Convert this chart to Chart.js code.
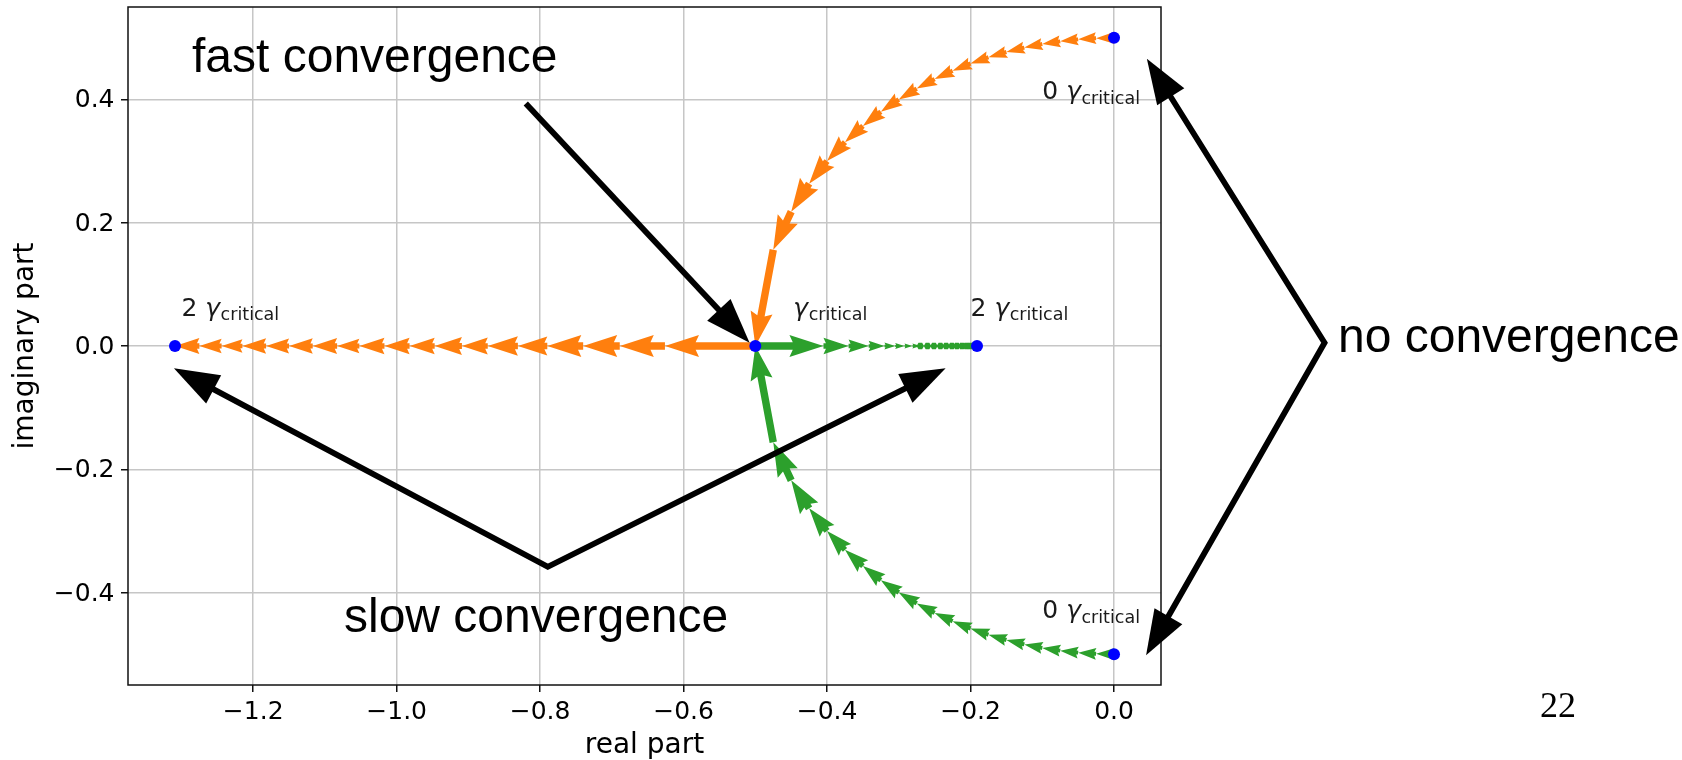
<!DOCTYPE html>
<html>
<head>
<meta charset="utf-8">
<script src="https://cdn.jsdelivr.net/npm/chart.js@4.4.1/dist/chart.umd.min.js"></script>
<style>
  html, body { margin: 0; padding: 0; background: #ffffff; }
  #wrap { position: relative; width: 1682px; height: 760px; overflow: hidden; background: #fff; }
  #c { position: absolute; left: 0; top: 0; }
  .note { position: absolute; font-family: "Liberation Sans", Arial, sans-serif; font-size: 48px; line-height: 48px; color: #000; white-space: nowrap; }
  .page { position: absolute; font-family: "Liberation Serif", "Times New Roman", serif; font-size: 36px; line-height: 36px; color: #000; white-space: nowrap; }
</style>
</head>
<body>
<div id="wrap">
  <canvas id="c" width="1682" height="760"></canvas>
  <div class="note" style="left:192px; top:32px;">fast convergence</div>
  <div class="note" style="left:344px; top:592px;">slow convergence</div>
  <div class="note" style="left:1338px; top:312px;">no convergence</div>
  <div class="page" style="left:1540px; top:687px;">22</div>
</div>
<script>
// ---------------- data ----------------
// real parts of the complex-pair branch (gamma from 0 up to gamma_critical)
const arcRe = [0, -0.025, -0.05, -0.075, -0.1, -0.125, -0.15, -0.175, -0.2, -0.225, -0.25,
               -0.275, -0.3, -0.325, -0.35, -0.375, -0.4, -0.425, -0.45, -0.475, -0.5];
const upperArcIm = [0.5, 0.4994, 0.4975, 0.4943, 0.4899, 0.4841, 0.4770, 0.4684, 0.4583, 0.4465, 0.4330,
                    0.4176, 0.4000, 0.3800, 0.3571, 0.3307, 0.3000, 0.2634, 0.2179, 0.1561, 0];
const lowerArcIm = [-0.5, -0.4994, -0.4975, -0.4943, -0.4899, -0.4841, -0.4770, -0.4684, -0.4583, -0.4465, -0.4330,
                    -0.4176, -0.4000, -0.3800, -0.3571, -0.3307, -0.3000, -0.2634, -0.2179, -0.1561, 0];
// real-axis branches (gamma from gamma_critical up to 2 gamma_critical)
const fastRootRe = [-0.626, -0.689, -0.740, -0.790, -0.831, -0.873, -0.909, -0.947, -0.982, -1.017,
                    -1.052, -1.083, -1.117, -1.150, -1.182, -1.215, -1.244, -1.275, -1.309];
const fastRootIm = [0, 0, 0, 0, 0, 0, 0, 0, 0, 0, 0, 0, 0, 0, 0, 0, 0, 0, 0];
const slowRootRe = [-0.405, -0.370, -0.342, -0.320, -0.305, -0.292, -0.281, -0.270, -0.260, -0.251,
                    -0.242, -0.234, -0.226, -0.219, -0.212, -0.206, -0.201, -0.196, -0.191];
const slowRootIm = [0, 0, 0, 0, 0, 0, 0, 0, 0, 0, 0, 0, 0, 0, 0, 0, 0, 0, 0];
// marked points
const dotRe = [0, 0, -0.5, -1.309, -0.191];
const dotIm = [0.5, -0.5, 0, 0, 0];
// point labels
const labelPrefix = ['2 ', '', '2 ', '0 ', '0 '];
const labelRe = [-1.300, -0.447, -0.200, -0.100, -0.100];
const labelIm = [0.049, 0.049, 0.049, 0.400, -0.442];
// axes
const xTicks = [-1.2, -1.0, -0.8, -0.6, -0.4, -0.2, 0.0];
const xTickLabels = ['\u22121.2', '\u22121.0', '\u22120.8', '\u22120.6', '\u22120.4', '\u22120.2', '0.0'];
const yTicks = [-0.4, -0.2, 0.0, 0.2, 0.4];
const yTickLabels = ['\u22120.4', '\u22120.2', '0.0', '0.2', '0.4'];
const xTitle = 'real part';
const yTitle = 'imaginary part';
// slide annotation arrows (in data coordinates)
const fastArrowRe = [-0.820, -0.508];
const fastArrowIm = [0.3936, 0.0052];
const slowArrowRe = [-1.3105, -0.7893, -0.2347];
const slowArrowIm = [-0.0361, -0.3583, -0.0361];
const noArrowRe = [0.0458, 0.2935, 0.0447];
const noArrowIm = [0.4662, 0.0052, -0.5018];

// ---------------- helpers ----------------
function pts(re, im) { return re.map((v, i) => ({ x: v, y: im[i] })); }
const orangePts = pts(arcRe, upperArcIm).concat(pts(fastRootRe, fastRootIm));
const greenPts = pts(arcRe, lowerArcIm).concat(pts(slowRootRe, slowRootIm));

// matplotlib-like quiver arrows (angles='xy', scale_units='xy', scale=1)
const Q = { w: 7.4, headwidth: 3, headlength: 4.6, headaxislength: 4.15, minlength: 1 };
function quiverPoly(L) {
  const hl = Q.headlength, hal = Q.headaxislength, hw = Q.headwidth;
  if (L < Q.minlength) {
    const out = [];
    for (let i = 0; i < 7; i++) {
      const th = i * Math.PI / 3;
      out.push([Math.cos(th) * Q.minlength * 0.5, Math.sin(th) * Q.minlength * 0.5]);
    }
    return out;
  }
  let x, y;
  if (L < hl) {
    const s = L / hl;
    x = [0, hl - hal, 0, hl].map(v => v * s);
    y = [0.5, 0.5, hw / 2, 0].map(v => v * s);
  } else {
    x = [0, L - hal, L - hl, L];
    y = [0.5, 0.5, hw / 2, 0];
  }
  return [[x[0], y[0]], [x[1], y[1]], [x[2], y[2]], [x[3], 0], [x[2], -y[2]], [x[1], -y[1]], [x[0], -y[0]]];
}

const quiverPlugin = {
  id: 'quiver',
  afterDatasetDraw(chart, args) {
    const ds = chart.data.datasets[args.index];
    if (!ds.quiverColor) return;
    const ctx = chart.ctx, xs = chart.scales.x, ys = chart.scales.y, a = chart.chartArea;
    ctx.save();
    ctx.beginPath();
    ctx.rect(a.left, a.top, a.right - a.left, a.bottom - a.top);
    ctx.clip();
    ctx.fillStyle = ds.quiverColor;
    const d = ds.data;
    for (let k = 0; k + 1 < d.length; k++) {
      const x0 = xs.getPixelForValue(d[k].x), y0 = ys.getPixelForValue(d[k].y);
      const x1 = xs.getPixelForValue(d[k + 1].x), y1 = ys.getPixelForValue(d[k + 1].y);
      const dx = x1 - x0, dy = y1 - y0, Lp = Math.hypot(dx, dy);
      if (Lp === 0) continue;
      const ux = dx / Lp, uy = dy / Lp, vx = -uy, vy = ux;
      const poly = quiverPoly(Lp / Q.w);
      ctx.beginPath();
      poly.forEach((p, i) => {
        const px = x0 + Q.w * (p[0] * ux + p[1] * vx);
        const py = y0 + Q.w * (p[0] * uy + p[1] * vy);
        if (i === 0) ctx.moveTo(px, py); else ctx.lineTo(px, py);
      });
      ctx.closePath();
      ctx.fill();
    }
    ctx.restore();
  }
};

const labelPlugin = {
  id: 'gammaLabels',
  afterDatasetsDraw(chart) {
    const ctx = chart.ctx, xs = chart.scales.x, ys = chart.scales.y, a = chart.chartArea;
    ctx.save();
    ctx.fillStyle = '#1a1a1a';
    ctx.textBaseline = 'alphabetic';
    ctx.textAlign = 'left';
    for (let i = 0; i < labelRe.length; i++) {
      let x = xs.getPixelForValue(labelRe[i]);
      const y = ys.getPixelForValue(labelIm[i]);
      ctx.font = '25px "DejaVu Sans"';
      if (labelPrefix[i]) {
        ctx.fillText(labelPrefix[i], x, y);
        x += ctx.measureText(labelPrefix[i]).width;
      }
      ctx.font = 'italic 25px "DejaVu Sans"';
      ctx.fillText('\u03b3', x, y);
      x += ctx.measureText('\u03b3').width;
      ctx.font = '17.5px "DejaVu Sans"';
      ctx.fillText('critical', x + 0.5, y + 4.5);
    }
    // axes frame (spines)
    ctx.strokeStyle = '#111';
    ctx.lineWidth = 1.5;
    ctx.strokeRect(a.left, a.top, a.right - a.left, a.bottom - a.top);
    ctx.restore();
  }
};

function noteArrow(ctx, P, headStart, headEnd) {
  const HL = 45, HH = 16;
  const n = P.length;
  const q = P.map(p => [p[0], p[1]]);
  function toward(a, b, dist) {
    const dx = b[0] - a[0], dy = b[1] - a[1], L = Math.hypot(dx, dy);
    return [a[0] + dx / L * dist, a[1] + dy / L * dist];
  }
  if (headStart) q[0] = toward(P[0], P[1], HL * 0.8);
  if (headEnd) q[n - 1] = toward(P[n - 1], P[n - 2], HL * 0.8);
  ctx.beginPath();
  q.forEach((p, i) => { if (i === 0) ctx.moveTo(p[0], p[1]); else ctx.lineTo(p[0], p[1]); });
  ctx.stroke();
  function head(tip, from) {
    const dx = tip[0] - from[0], dy = tip[1] - from[1], L = Math.hypot(dx, dy);
    const ux = dx / L, uy = dy / L;
    const bx = tip[0] - ux * HL, by = tip[1] - uy * HL;
    ctx.beginPath();
    ctx.moveTo(tip[0], tip[1]);
    ctx.lineTo(bx - uy * HH, by + ux * HH);
    ctx.lineTo(bx + uy * HH, by - ux * HH);
    ctx.closePath();
    ctx.fill();
  }
  if (headStart) head(P[0], P[1]);
  if (headEnd) head(P[n - 1], P[n - 2]);
}

const notePlugin = {
  id: 'slideArrows',
  afterDraw(chart) {
    const ctx = chart.ctx, xs = chart.scales.x, ys = chart.scales.y;
    const px = (re, im) => re.map((v, i) => [xs.getPixelForValue(v), ys.getPixelForValue(im[i])]);
    ctx.save();
    ctx.strokeStyle = '#000';
    ctx.fillStyle = '#000';
    ctx.lineWidth = 5.8;
    ctx.lineJoin = 'miter';
    ctx.miterLimit = 10;
    ctx.lineCap = 'butt';
    noteArrow(ctx, px(fastArrowRe, fastArrowIm), false, true);
    noteArrow(ctx, px(slowArrowRe, slowArrowIm), true, true);
    noteArrow(ctx, px(noArrowRe, noArrowIm), true, true);
    ctx.restore();
  }
};

function build() {
  const tickFont = { family: 'DejaVu Sans', size: 25 };
  new Chart(document.getElementById('c'), {
    type: 'scatter',
    data: {
      datasets: [
        { label: 'points', data: pts(dotRe, dotIm), pointRadius: 6, pointBackgroundColor: '#0000ff',
          pointBorderWidth: 0, pointBorderColor: '#0000ff', showLine: false },
        { label: 'upper root', data: orangePts, pointRadius: 0, showLine: false, quiverColor: '#ff7f0e' },
        { label: 'lower root', data: greenPts, pointRadius: 0, showLine: false, quiverColor: '#2ca02c' }
      ]
    },
    options: {
      responsive: false,
      animation: false,
      devicePixelRatio: 1,
      events: [],
      layout: { padding: { top: 7, right: 521, left: 0, bottom: 0 } },
      plugins: { legend: { display: false }, tooltip: { enabled: false } },
      scales: {
        x: {
          type: 'linear', min: -1.3745, max: 0.0655,
          afterBuildTicks: s => { s.ticks = xTicks.map(v => ({ value: v })); },
          afterFit: s => { s.height = 75; s.paddingLeft = 0; s.paddingRight = 0; },
          border: { display: false },
          grid: { color: '#c6c6c6', lineWidth: 1.5, tickLength: 7, tickColor: '#111', tickWidth: 1.5 },
          ticks: { callback: (v, i) => xTickLabels[i], font: tickFont, color: '#000', padding: 5,
                   maxRotation: 0, minRotation: 0, autoSkip: false },
          title: { display: true, text: xTitle, color: '#000',
                   font: { family: 'DejaVu Sans', size: 28, lineHeight: 1 }, padding: { top: 0, bottom: 0 } }
        },
        y: {
          type: 'linear', min: -0.55, max: 0.55,
          afterBuildTicks: s => { s.ticks = yTicks.map(v => ({ value: v })); },
          afterFit: s => { s.width = 128; s.paddingTop = 0; s.paddingBottom = 0; },
          border: { display: false },
          grid: { color: '#c6c6c6', lineWidth: 1.5, tickLength: 7, tickColor: '#111', tickWidth: 1.5 },
          ticks: { callback: (v, i) => yTickLabels[i], font: tickFont, color: '#000', padding: 6.5,
                   autoSkip: false, labelOffset: 1.5 },
          title: { display: true, text: yTitle, color: '#000',
                   font: { family: 'DejaVu Sans', size: 28, lineHeight: 1 }, padding: { top: 12, bottom: 0 } }
        }
      }
    },
    plugins: [quiverPlugin, labelPlugin, notePlugin]
  });
}

const fontLoads = [
  '25px "DejaVu Sans"', 'italic 25px "DejaVu Sans"', '48px "Liberation Sans"', '36px "Liberation Serif"'
].map(f => document.fonts.load(f).catch(() => null));
Promise.race([Promise.all(fontLoads), new Promise(r => setTimeout(r, 1500))]).then(build);
</script>
</body>
</html>
